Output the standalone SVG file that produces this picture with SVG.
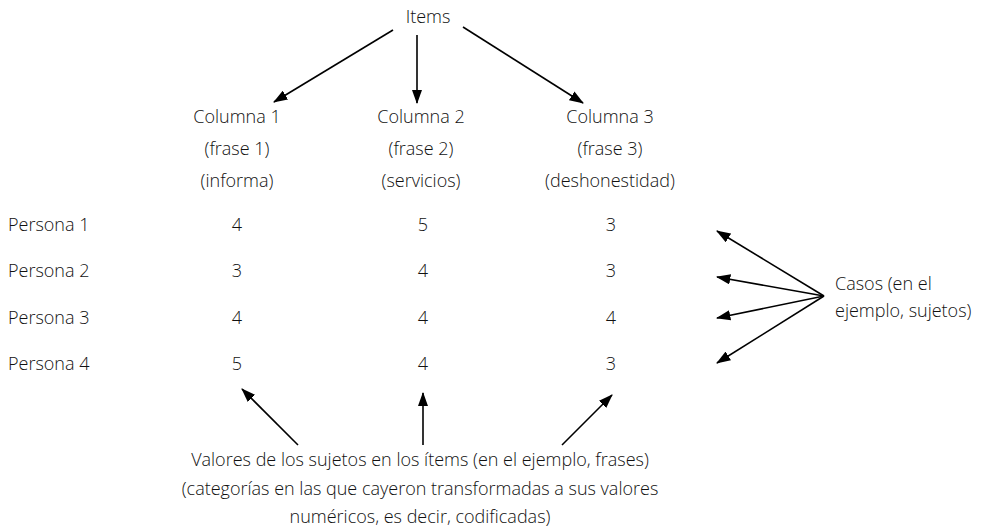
<svg xmlns="http://www.w3.org/2000/svg" width="987" height="531" viewBox="0 0 987 531">
<style>
text{font-family:"Open Sans","Noto Sans","Liberation Sans",sans-serif;font-size:18px;font-weight:300;fill:#111;}
.m{text-anchor:middle}
.c{stroke:#000;stroke-width:1.6;fill:none;marker-end:url(#ah)}
</style>
<defs>
<marker id="ah" viewBox="0 0 14 10" refX="13" refY="5" markerWidth="9" markerHeight="6.5" markerUnits="strokeWidth" orient="auto">
<path d="M0,0 L14,5 L0,10 z" fill="#000"/>
</marker>
</defs>
<rect width="987" height="531" fill="#fff"/>
<g id="items"><text class="m" x="428" y="23">Items</text></g>
<g id="col1"><text class="m" x="237" y="123">Columna 1</text><text class="m" x="237" y="155">(frase 1)</text><text class="m" x="237" y="187">(informa)</text></g>
<g id="col2"><text class="m" x="421" y="123">Columna 2</text><text class="m" x="421" y="155">(frase 2)</text><text class="m" x="421" y="187">(servicios)</text></g>
<g id="col3"><text class="m" x="610" y="123">Columna 3</text><text class="m" x="610" y="155">(frase 3)</text><text class="m" x="610" y="187">(deshonestidad)</text></g>
<g id="p1"><text x="8" y="231">Persona 1</text><text class="m" x="237" y="231">4</text><text class="m" x="423" y="231">5</text><text class="m" x="611" y="231">3</text></g>
<g id="p2"><text x="8" y="277">Persona 2</text><text class="m" x="237" y="277">3</text><text class="m" x="423" y="277">4</text><text class="m" x="611" y="277">3</text></g>
<g id="p3"><text x="8" y="324">Persona 3</text><text class="m" x="237" y="324">4</text><text class="m" x="423" y="324">4</text><text class="m" x="611" y="324">4</text></g>
<g id="p4"><text x="8" y="370">Persona 4</text><text class="m" x="237" y="370">5</text><text class="m" x="423" y="370">4</text><text class="m" x="611" y="370">3</text></g>
<g id="casos"><text x="835" y="290">Casos (en el</text><text x="835" y="317">ejemplo, sujetos)</text></g>
<g id="valores"><text class="m" x="420" y="466">Valores de los sujetos en los ítems (en el ejemplo, frases)</text><text class="m" x="420" y="495">(categorías en las que cayeron transformadas a sus valores</text><text class="m" x="420" y="523">numéricos, es decir, codificadas)</text></g>
<g id="connectors">
<line class="c" x1="393" y1="30" x2="274" y2="102"/>
<line class="c" x1="417" y1="35" x2="417" y2="103"/>
<line class="c" x1="463" y1="27" x2="583" y2="103"/>
<line class="c" x1="824" y1="296" x2="717" y2="231"/>
<line class="c" x1="824" y1="296" x2="717" y2="277"/>
<line class="c" x1="824" y1="296" x2="717" y2="318"/>
<line class="c" x1="824" y1="296" x2="717" y2="363"/>
<line class="c" x1="298" y1="445" x2="242" y2="389"/>
<line class="c" x1="423" y1="445" x2="423" y2="393"/>
<line class="c" x1="562" y1="445" x2="612" y2="395"/>
</g>
</svg>
